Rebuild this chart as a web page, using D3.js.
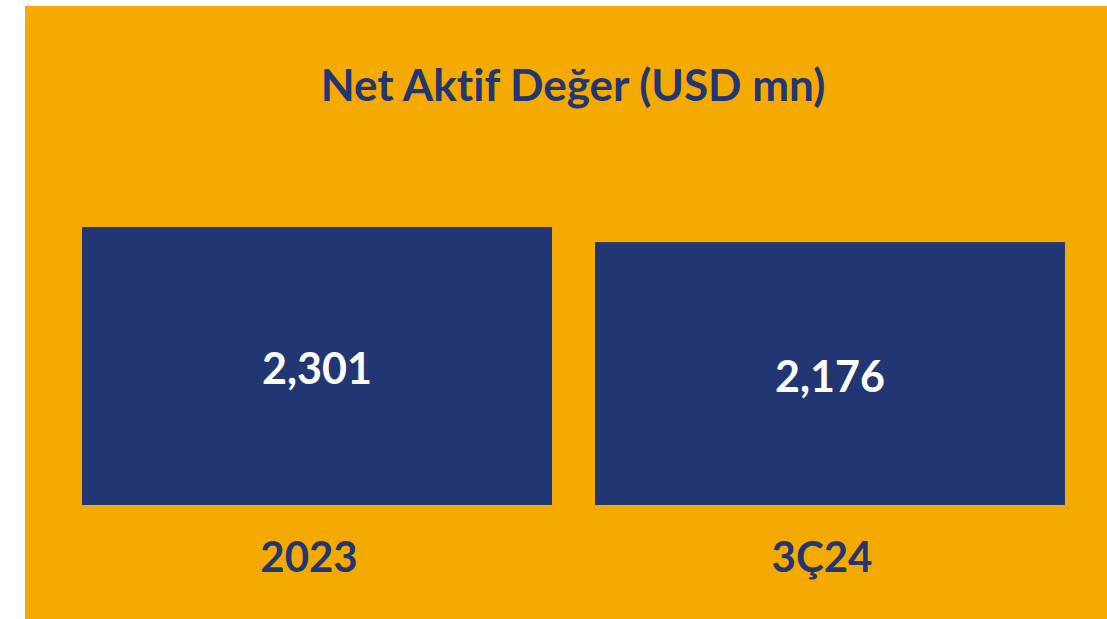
<!DOCTYPE html>
<html><head><meta charset="utf-8">
<script src="https://cdn.jsdelivr.net/npm/d3@7"></script>
<style>html,body{margin:0;padding:0;background:#fff;}svg{display:block;}text{font-variant-ligatures:none;font-feature-settings:"liga" 0;}</style>
</head><body>
<svg id="c" width="1107" height="619"></svg>
<script>
const categories = ["2023", "3Ç24"];
const values = [2301, 2176];
const title = "Net Aktif Değer (USD mn)";

const svg = d3.select("#c");
const W = 1107, H = 619;
const orange = "#F4AA00", navy = "#233674";
const font = "Lato, 'Open Sans', sans-serif";

svg.append("rect").attr("x", 25).attr("y", 6).attr("width", W - 25).attr("height", H - 6).attr("fill", orange);

const x = d3.scaleBand().domain(categories).range([82, 1065]).paddingInner(0.0838).paddingOuter(0);
const y = d3.scaleLinear().domain([0, 2301]).range([505, 227]);

svg.append("text").attr("x", 573).attr("y", 101).attr("text-anchor", "middle")
  .attr("font-family", font).attr("font-weight", "bold").attr("font-size", 44)
  .attr("fill", navy).text(title);

const g = svg.append("g");
g.selectAll("rect.bar").data(categories).join("rect").attr("class", "bar")
  .attr("x", d => x(d)).attr("width", x.bandwidth())
  .attr("y", (d, i) => y(values[i])).attr("height", (d, i) => y(0) - y(values[i]))
  .attr("fill", navy);

g.selectAll("text.val").data(categories).join("text").attr("class", "val")
  .attr("x", d => x(d) + x.bandwidth() / 2)
  .attr("y", (d, i) => (y(values[i]) + y(0)) / 2 + 3)
  .attr("dy", "0.35em")
  .attr("text-anchor", "middle").attr("font-family", font).attr("font-weight", "bold")
  .attr("font-size", 43).attr("fill", "#fff")
  .text((d, i) => d3.format(",")(values[i]));

const xAxis = d3.axisBottom(x).tickSize(0).tickPadding(0);
const ax = svg.append("g").attr("transform", "translate(-8,572)").call(xAxis);
ax.select(".domain").remove();
ax.selectAll("text").attr("dy", 0).attr("font-family", font).attr("font-weight", "bold")
  .attr("font-size", 42).attr("fill", navy);
</script>
</body></html>
